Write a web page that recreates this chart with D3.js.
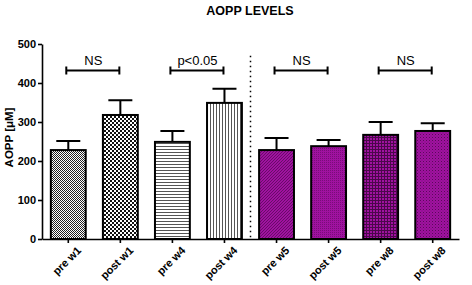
<!DOCTYPE html>
<html>
<head>
<meta charset="utf-8">
<script src="https://cdn.jsdelivr.net/npm/d3@7"></script>
<style>
body { margin: 0; background: #fff; }
text { font-family: Arial, "Liberation Sans", sans-serif; }
</style>
</head>
<body>
<script>
var groups = ["pre w1", "post w1", "pre w4", "post w4", "pre w5", "post w5", "pre w8", "post w8"];
var means = [228, 318, 249, 349, 228, 238, 267, 277];
var errTop = [251, 356, 277, 385, 259, 254, 300, 297];
var patterns = ["finecheck", "bigcheck", "hlines", "vlines", "pdiag", "pfine", "pgrid", "pdots"];
var yTicks = [0, 100, 200, 300, 400, 500];
var brackets = [
  {from: "pre w1", to: "post w1", label: "NS"},
  {from: "pre w4", to: "post w4", label: "p<0.05"},
  {from: "pre w5", to: "post w5", label: "NS"},
  {from: "pre w8", to: "post w8", label: "NS"}
];
var bracketY = 432;

var W = 472, H = 285;
var margin = {top: 44, right: 13, bottom: 46, left: 42};
var width = W - margin.left - margin.right,
    height = H - margin.top - margin.bottom;

var svg = d3.select("body").append("svg").attr("width", W).attr("height", H);
var defs = svg.append("defs");
var purple = "#a012a0", dpurple = "#5a0a5a";

// fill patterns
function pat(id, size) {
  return defs.append("pattern").attr("id", id).attr("patternUnits", "userSpaceOnUse")
    .attr("width", size).attr("height", size);
}
var p = pat("finecheck", 2);
p.append("rect").attr("width", 2).attr("height", 2).attr("fill", "#fff");
p.append("rect").attr("width", 1).attr("height", 1).attr("fill", "#222");
p.append("rect").attr("x", 1).attr("y", 1).attr("width", 1).attr("height", 1).attr("fill", "#222");

p = pat("bigcheck", 4);
p.append("rect").attr("width", 4).attr("height", 4).attr("fill", "#fff");
p.append("rect").attr("width", 2).attr("height", 2).attr("fill", "#111");
p.append("rect").attr("x", 2).attr("y", 2).attr("width", 2).attr("height", 2).attr("fill", "#111");

p = pat("hlines", 3);
p.append("rect").attr("width", 3).attr("height", 3).attr("fill", "#fff");
p.append("rect").attr("width", 3).attr("height", 1).attr("fill", "#555");

p = pat("vlines", 3);
p.append("rect").attr("width", 3).attr("height", 3).attr("fill", "#fff");
p.append("rect").attr("width", 1).attr("height", 3).attr("fill", "#555");

p = pat("pdiag", 3);
p.append("rect").attr("width", 3).attr("height", 3).attr("fill", purple);
p.append("path").attr("d", "M0,3L3,0").attr("stroke", dpurple).attr("stroke-width", 0.8);

p = pat("pfine", 2);
p.append("rect").attr("width", 2).attr("height", 2).attr("fill", purple);
p.append("rect").attr("width", 1).attr("height", 1).attr("fill", "#7a0c7a");

p = pat("pgrid", 3);
p.append("rect").attr("width", 3).attr("height", 3).attr("fill", purple);
p.append("rect").attr("width", 3).attr("height", 1).attr("fill", "#4a084a");
p.append("rect").attr("width", 1).attr("height", 3).attr("fill", "#4a084a");

p = pat("pdots", 3);
p.append("rect").attr("width", 3).attr("height", 3).attr("fill", purple);
p.append("rect").attr("width", 1).attr("height", 1).attr("fill", dpurple);
p.append("rect").attr("x", 1.5).attr("y", 1.5).attr("width", 1).attr("height", 1).attr("fill", "#7a0c7a");

var g = svg.append("g").attr("transform", "translate(" + margin.left + "," + margin.top + ")");

var x = d3.scaleBand().domain(groups).range([0, width]).paddingInner(0.33).paddingOuter(0.17);
var y = d3.scaleLinear().domain([0, 500]).range([height, 0]);

// title
svg.append("text").attr("x", 250).attr("y", 15).attr("text-anchor", "middle")
  .attr("font-size", 12.5).attr("font-weight", "bold").text("AOPP LEVELS");

// y axis
var yAxis = g.append("g").call(d3.axisLeft(y).tickValues(yTicks).tickSize(4).tickSizeOuter(0).tickPadding(2));
yAxis.select(".domain").attr("stroke", "#000").attr("stroke-width", 1.6);
yAxis.selectAll(".tick line").attr("stroke-width", 1.6);
yAxis.selectAll(".tick text").attr("font-size", 11).attr("font-weight", "bold").attr("fill", "#000")
  .attr("font-family", "Arial, 'Liberation Sans', sans-serif");

svg.append("text").attr("transform", "translate(13," + (margin.top + height / 2 - 4) + ") rotate(-90)")
  .attr("text-anchor", "middle").attr("font-size", 11.5).attr("font-weight", "bold").text("AOPP [\u03bcM]");

// x axis
var xAxis = g.append("g").attr("transform", "translate(0," + height + ")")
  .call(d3.axisBottom(x).tickSize(4).tickSizeOuter(0).tickPadding(3));
xAxis.select(".domain").attr("stroke-width", 1.6);
xAxis.selectAll(".tick line").attr("stroke-width", 1.6);
xAxis.selectAll(".tick text").attr("font-size", 11).attr("font-weight", "bold").attr("fill", "#000")
  .attr("font-family", "Arial, 'Liberation Sans', sans-serif")
  .attr("text-anchor", "end").attr("dy", "0.5em").attr("dx", "0.1em")
  .attr("transform", "translate(4,4) rotate(-45)");

// divider
var divX = (x("post w4") + x.bandwidth() + x("pre w5")) / 2;
g.append("line").attr("x1", divX).attr("x2", divX).attr("y1", y(470)).attr("y2", height)
  .attr("stroke", "#000").attr("stroke-width", 1.5).attr("stroke-dasharray", "1.5,3.5");

// error bars
var cap = 12;
g.selectAll(".err").data(groups).enter().append("path").attr("class", "err")
  .attr("d", function(d, i) {
    var cx = x(d) + x.bandwidth() / 2;
    return "M" + cx + "," + y(means[i]) + "V" + y(errTop[i]) + "M" + (cx - cap) + "," + y(errTop[i]) + "H" + (cx + cap);
  })
  .attr("stroke", "#000").attr("stroke-width", 2).attr("fill", "none");

// bars
g.selectAll(".bar").data(groups).enter().append("rect").attr("class", "bar")
  .attr("x", function(d) { return x(d); })
  .attr("y", function(d, i) { return y(means[i]); })
  .attr("width", x.bandwidth())
  .attr("height", function(d, i) { return height - y(means[i]); })
  .attr("fill", function(d, i) { return "url(#" + patterns[i] + ")"; })
  .attr("stroke", "#000").attr("stroke-width", 2);

// significance brackets
var bk = g.selectAll(".bk").data(brackets).enter().append("g");
bk.append("path").attr("d", function(b) {
    var x1 = x(b.from) + x.bandwidth() / 2 - 2, x2 = x(b.to) + x.bandwidth() / 2 - 1, yy = y(bracketY);
    return "M" + x1 + "," + (yy - 4) + "V" + (yy + 4) + "M" + x1 + "," + yy + "H" + x2 + "M" + x2 + "," + (yy - 4) + "V" + (yy + 4);
  }).attr("stroke", "#000").attr("stroke-width", 2).attr("fill", "none");
bk.append("text")
  .attr("x", function(b) { return (x(b.from) + x(b.to) + x.bandwidth()) / 2 - 1; })
  .attr("y", y(bracketY) - 6).attr("text-anchor", "middle").attr("font-size", 13).text(function(b) { return b.label; });
</script>
</body>
</html>
